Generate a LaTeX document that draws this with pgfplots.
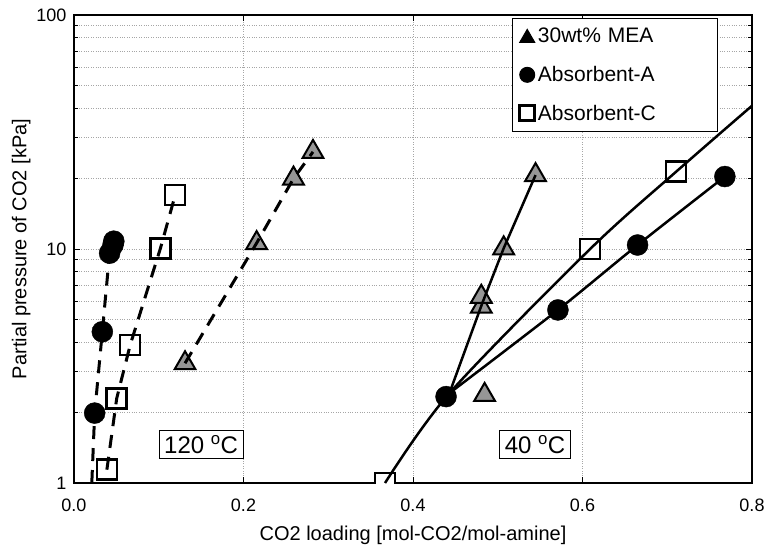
\documentclass[border=0pt]{standalone}
\usepackage{fontspec}
\setmainfont{Liberation Sans}
\usepackage{pgfplots}
\pgfplotsset{compat=1.18}
\definecolor{trigray}{RGB}{150,150,150}
\begin{document}
\begin{tikzpicture}
\useasboundingbox (-74pt,-61pt) rectangle (694pt,483pt);
\begin{axis}[
  scale only axis, width=678pt, height=468pt,
  xmin=0, xmax=0.8, ymin=1, ymax=100, ymode=log,
  xtick={0,0.2,0.4,0.6,0.8},
  xticklabels={0.0,0.2,0.4,0.6,0.8},
  ytick={1,10,100}, yticklabels={1,10,100},
  /pgf/number format/assume math mode=true,
  tick label style={font=\fontsize{18}{20}\selectfont},
  xticklabel style={yshift=-12pt},
  yticklabel style={xshift=-4pt},
  label style={font=\fontsize{20}{23}\selectfont},
  xlabel={CO2 loading [mol-CO2/mol-amine]},
  ylabel={Partial pressure of CO2 [kPa]},
  xlabel style={yshift=-8pt},
  ylabel style={yshift=-1pt},
  axis line style={line width=2pt},
  tick style={black, line width=0.8pt},
  major tick length=6pt, minor tick length=4pt,
  tick align=inside,
  xmajorgrids, ymajorgrids, yminorgrids,
  grid style={dotted, gray!70, line width=0.7pt},
  clip marker paths=true,
  legend cell align=left,
  legend style={at={(0.646,0.994)}, anchor=north west, draw=black, line width=1pt,
    font=\fontsize{21}{25}\selectfont, row sep=18pt, inner xsep=6pt, inner ysep=8pt,
    nodes={text width=172pt}},
]
% markers
\addplot[only marks, mark=triangle*, mark size=12pt, mark options={fill=trigray, draw=black, line width=2pt},
  legend image code/.code={\draw[fill=black, draw=black] (0pt,-6pt) -- (15pt,-6pt) -- (7.5pt,7pt) -- cycle;}]
  coordinates {(0.131,3.25) (0.2155,10.6) (0.259,20.0) (0.282,26.0)
               (0.4845,2.38) (0.4806,5.67) (0.4806,6.25) (0.507,10.07) (0.5446,20.7)};
\addlegendentry{30wt\% MEA}
\addplot[only marks, mark=*, mark size=10.5pt, mark options={fill=black, draw=black},
  legend image code/.code={\fill[black] (7.5pt,0pt) circle (7.5pt);}]
  coordinates {(0.0244,1.99) (0.0334,4.43) (0.042,9.6) (0.046,10.4) (0.047,10.8)
               (0.439,2.34) (0.571,5.49) (0.665,10.4) (0.768,20.4)};
\addlegendentry{Absorbent-A}
\addplot[only marks, mark=square*, mark size=10pt, mark options={fill=white, draw=black, line width=2.5pt},
  legend image code/.code={\draw[fill=white, draw=black, line width=2.5pt] (0pt,-7pt) rectangle (15pt,8pt);}]
  coordinates {(0.0388,1.14) (0.0504,2.30) (0.0663,3.89) (0.102,10.07) (0.1194,17.0)
               (0.367,1.0) (0.609,10.0) (0.7105,21.4)};
\addlegendentry{Absorbent-C}
% 120 C dashed lines
\addplot[forget plot, black, line width=3pt, dash pattern=on 13pt off 9pt, no marks]
  coordinates {(0.021,1) (0.0244,1.99) (0.0334,4.43) (0.042,9.6) (0.046,10.4)};
\addplot[forget plot, black, line width=3pt, dash pattern=on 13pt off 9pt, no marks]
  coordinates {(0.0388,1.14) (0.0504,2.30) (0.0663,3.89) (0.102,10.07) (0.1194,17.0)};
\addplot[forget plot, black, line width=3pt, dash pattern=on 13pt off 9pt, no marks]
  coordinates {(0.131,3.25) (0.2155,10.6) (0.259,20.0) (0.282,26.0)};
% 40 C solid lines
\addplot[forget plot, black, line width=2.5pt, no marks, smooth]
  coordinates {(0.367,1) (0.443,2.42) (0.609,10) (0.7105,21.4) (0.81,44)};
\addplot[forget plot, black, line width=2.5pt, no marks]
  coordinates {(0.443,2.42) (0.482,5.9) (0.507,10.07) (0.5446,20.7)};
\addplot[forget plot, black, line width=2.5pt, no marks, smooth]
  coordinates {(0.443,2.42) (0.571,5.49) (0.665,10.4) (0.768,20.4)};
% temperature labels
\node[draw=black, line width=1pt, fill=white, font=\fontsize{24}{28}\selectfont, inner sep=5pt]
  at (axis cs:0.150,1.46) {120 \textsuperscript{o}C};
\node[draw=black, line width=1pt, fill=white, font=\fontsize{24}{28}\selectfont, inner sep=5pt]
  at (axis cs:0.544,1.46) {40 \textsuperscript{o}C};
\end{axis}
\end{tikzpicture}
\end{document}
